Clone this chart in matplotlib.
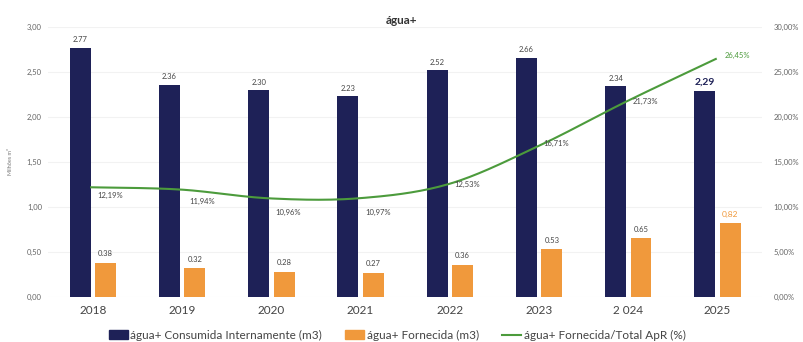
import numpy as np
import matplotlib
matplotlib.use("Agg")
import matplotlib.pyplot as plt
from matplotlib.lines import Line2D
from matplotlib.patches import Patch

plt.rcParams['font.family'] = ['Lato', 'DejaVu Sans']

years = ["2018", "2019", "2020", "2021", "2022", "2023", "2 024", "2025"]
consumida = [2.77, 2.36, 2.30, 2.23, 2.52, 2.66, 2.34, 2.29]
fornecida = [0.38, 0.32, 0.28, 0.27, 0.36, 0.53, 0.65, 0.82]
ratio = [12.19, 11.94, 10.96, 10.97, 12.53, 16.71, 21.73, 26.45]
cons_labels = ["2.77", "2.36", "2.30", "2.23", "2.52", "2.66", "2.34", "2,29"]
forn_labels = ["0.38", "0.32", "0.28", "0.27", "0.36", "0.53", "0.65", "0,82"]
ratio_labels = ["12,19%", "11,94%", "10,96%", "10,97%", "12,53%", "16,71%", "21,73%", "26,45%"]
left_ticks = ["0,00", "0,50", "1,00", "1,50", "2,00", "2,50", "3,00"]
right_ticks = ["0,00%", "5,00%", "10,00%", "15,00%", "20,00%", "25,00%", "30,00%"]

NAVY = "#1e2157"
ORANGE = "#f0993c"
GREEN = "#4c9b3c"
TXT = "#444444"

fig = plt.figure(figsize=(8.04, 3.42), dpi=100)
ax = fig.add_axes([0.06, 0.1316, 0.888, 0.7894])
ax2 = ax.twinx()

x = np.arange(len(years))
w = 0.235
off = 0.142
ax.bar(x - off, consumida, w, color=NAVY, zorder=2)
ax.bar(x + off, fornecida, w, color=ORANGE, zorder=2)

for i in range(len(years)):
    if i == len(years) - 1:
        ax.text(x[i] - off, consumida[i] + 0.05, cons_labels[i], ha="center", va="bottom",
                fontsize=7.5, fontweight="bold", color=NAVY)
        ax.text(x[i] + off, fornecida[i] + 0.06, forn_labels[i], ha="center", va="bottom",
                fontsize=6, color=ORANGE)
    else:
        ax.text(x[i] - off, consumida[i] + 0.05, cons_labels[i], ha="center", va="bottom",
                fontsize=5.5, color=TXT)
        ax.text(x[i] + off, fornecida[i] + 0.06, forn_labels[i], ha="center", va="bottom",
                fontsize=5.5, color=TXT)

# smooth line (Excel-like Bezier smoothing through the points)
xl = x - 0.02
yl = np.array(ratio)
px, py = [], []
n = len(xl)
for i in range(n - 1):
    p0 = (xl[max(i - 1, 0)], yl[max(i - 1, 0)])
    p1 = (xl[i], yl[i])
    p2 = (xl[i + 1], yl[i + 1])
    p3 = (xl[min(i + 2, n - 1)], yl[min(i + 2, n - 1)])
    c1 = (p1[0] + (p2[0] - p0[0]) / 6, p1[1] + (p2[1] - p0[1]) / 6)
    c2 = (p2[0] - (p3[0] - p1[0]) / 6, p2[1] - (p3[1] - p1[1]) / 6)
    t = np.linspace(0, 1, 30)
    bx = (1 - t) ** 3 * p1[0] + 3 * (1 - t) ** 2 * t * c1[0] + 3 * (1 - t) * t ** 2 * c2[0] + t ** 3 * p2[0]
    by = (1 - t) ** 3 * p1[1] + 3 * (1 - t) ** 2 * t * c1[1] + 3 * (1 - t) * t ** 2 * c2[1] + t ** 3 * p2[1]
    px.extend(bx)
    py.extend(by)
ax2.plot(px, py, color=GREEN, lw=1.5, zorder=3)

lab_off = [(0.07, -0.9), (0.1, -1.3), (0.07, -1.6), (0.07, -1.6), (0.07, 0.0),
           (0.07, 0.4), (0.07, 0.0), (0.1, 0.4)]
for i in range(n):
    dx, dy = lab_off[i]
    col = GREEN if i == n - 1 else TXT
    ax2.text(xl[i] + dx, yl[i] + dy, ratio_labels[i], ha="left", va="center",
             fontsize=5.5, color=col)

ax.set_xlim(-0.5, n - 0.5)
ax.set_ylim(0, 3.0)
ax2.set_ylim(0, 30)
ax.set_yticks(np.arange(0, 3.01, 0.5))
ax.set_yticklabels(left_ticks, fontsize=5.5, color="#666666")
ax2.set_yticks(np.arange(0, 30.1, 5))
ax2.set_yticklabels(right_ticks, fontsize=5.5, color="#666666")
ax.set_xticks(x)
ax.set_xticklabels(years, fontsize=8.5, color=TXT)
ax.tick_params(axis="both", length=0)
ax2.tick_params(axis="both", length=0)
ax.tick_params(axis="y", pad=4.5)
ax2.tick_params(axis="y", pad=8)
ax.tick_params(axis="x", pad=6)
ax.grid(axis="y", color="#f2f2f2", lw=0.8, zorder=0)
for a in (ax, ax2):
    for s in a.spines.values():
        s.set_visible(False)

ax.set_ylabel("Milhões m³", fontsize=4, color="#777777")
ax.yaxis.set_label_coords(-0.049, 0.5)

fig.text(0.5, 0.94, "água+", ha="center", va="center", fontsize=8.5, fontweight="bold", color="#333333")

handles = [Patch(color=NAVY), Patch(color=ORANGE), Line2D([0], [0], color=GREEN, lw=1.5)]
labels = ["água+ Consumida Internamente (m3)", "água+ Fornecida (m3)", "água+ Fornecida/Total ApR (%)"]
fig.legend(handles, labels, loc="center", bbox_to_anchor=(0.494, 0.02), ncol=3, frameon=False,
           fontsize=8.5, handlelength=1.6, handleheight=0.7, handletextpad=0.2, columnspacing=2.0,
           labelcolor=TXT)

fig.savefig("out.png", dpi=100)
